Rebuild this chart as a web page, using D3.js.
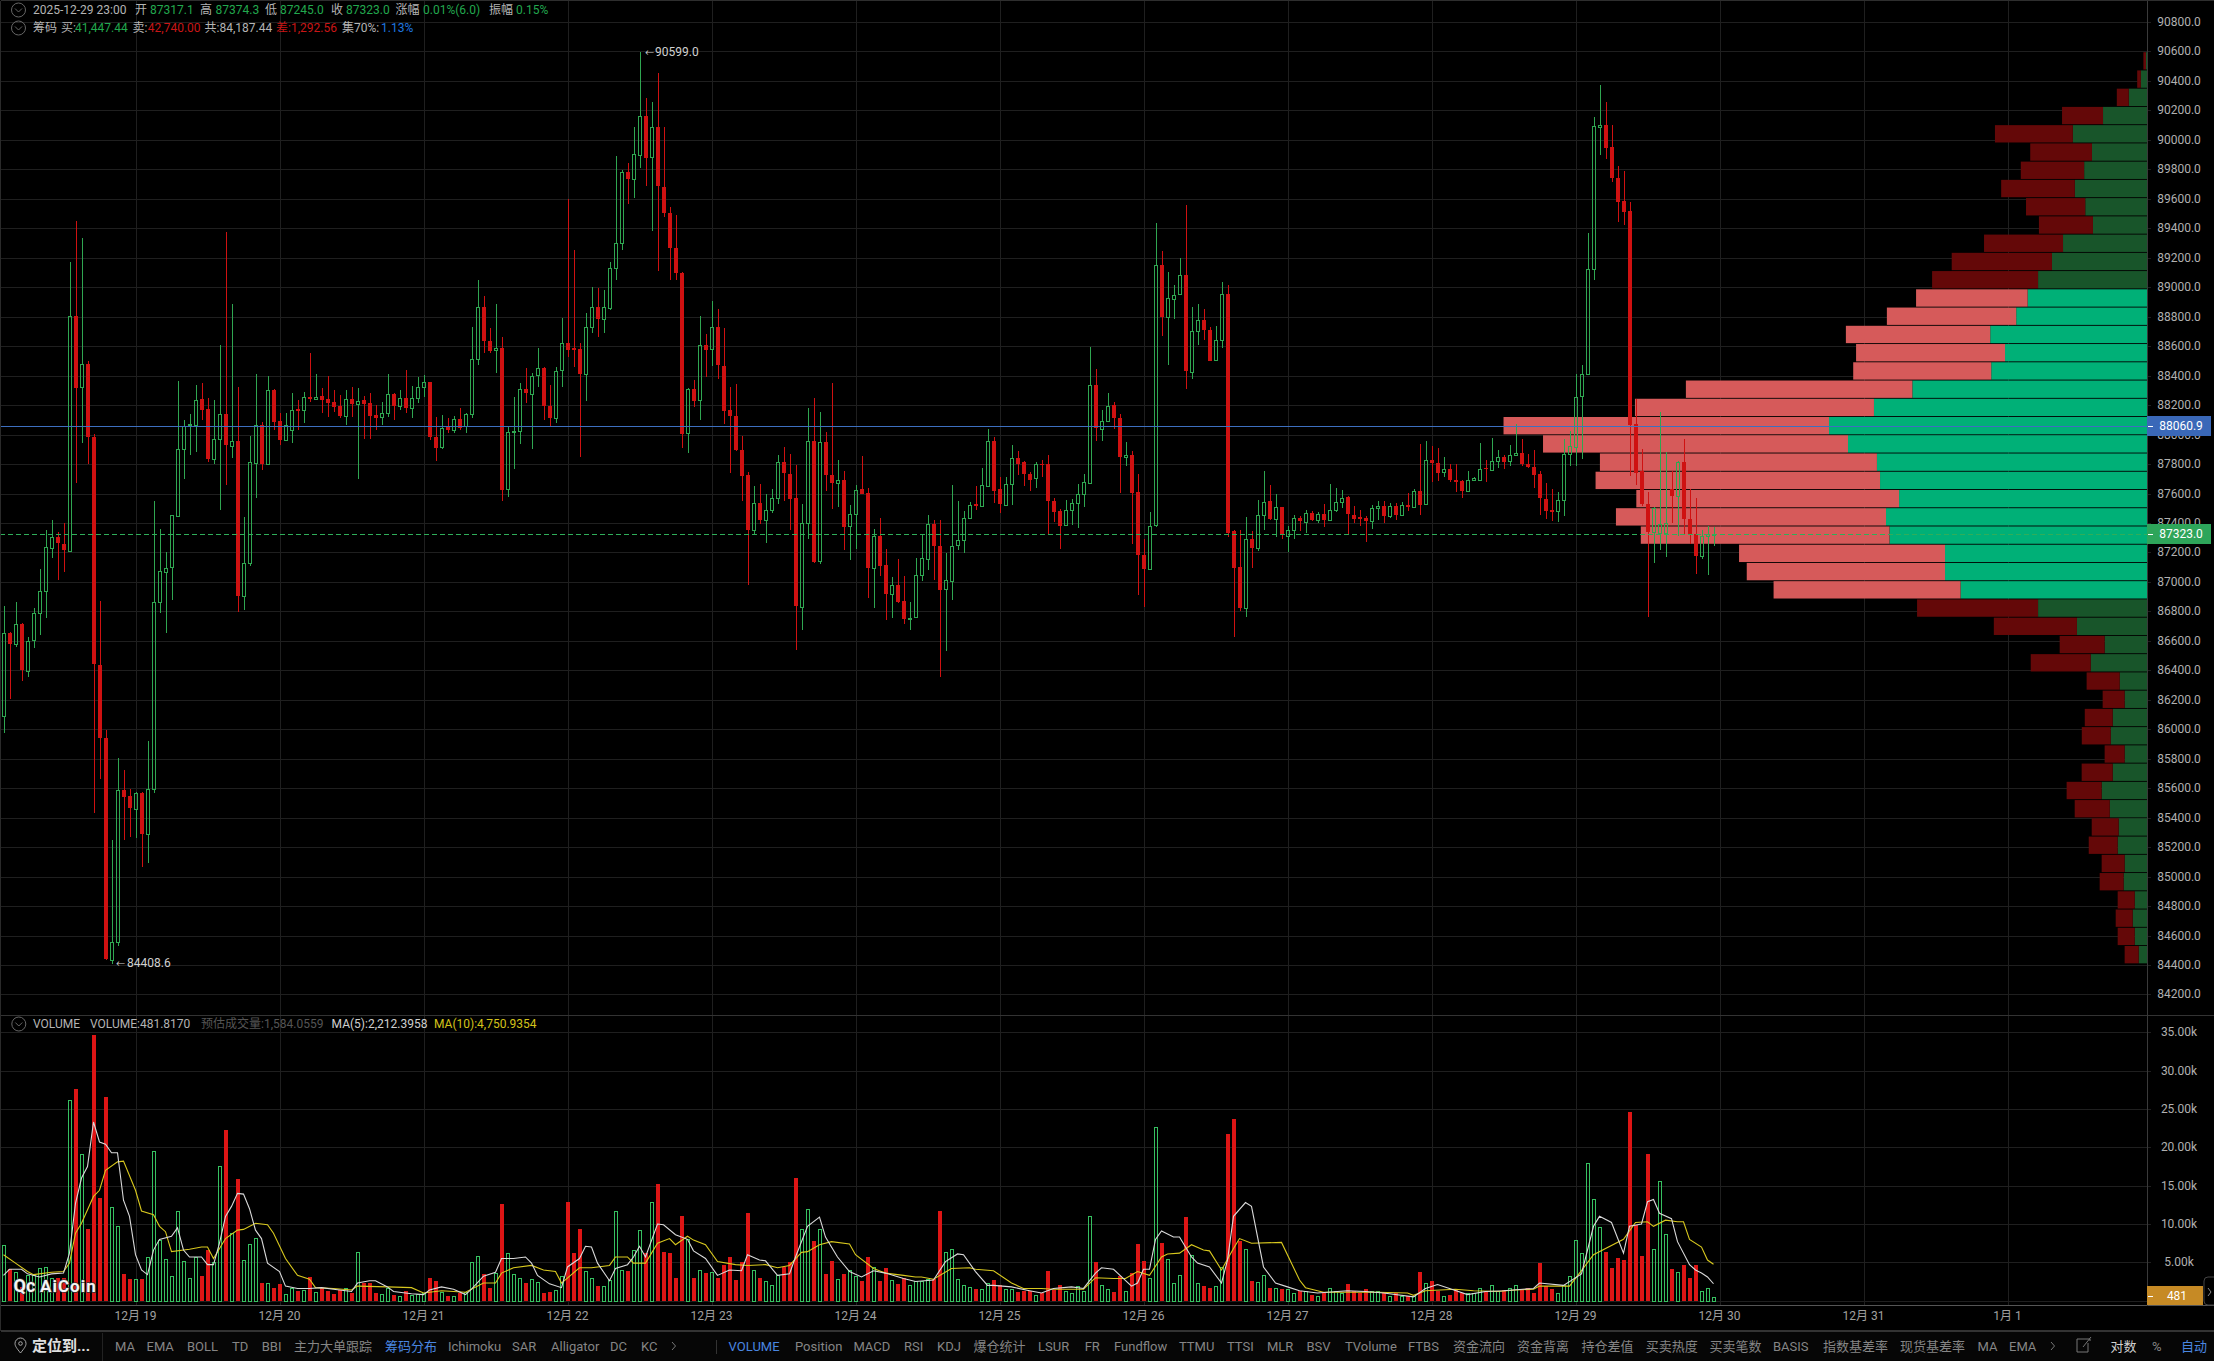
<!DOCTYPE html>
<html lang="zh"><head><meta charset="utf-8"><title>BTC K线</title>
<script src="https://cdnjs.cloudflare.com/ajax/libs/d3/7.8.5/d3.min.js"></script>
<style>html,body{margin:0;padding:0;background:#000;overflow:hidden}svg{display:block}
text{font-family:Roboto,"Noto Sans CJK SC",sans-serif}</style></head><body><svg id="c" width="2214" height="1361"></svg>
<script>
// hourly candles; index 0 = 12-18 02:00, index 285 = 12-29 23:00
const opens=[
86086,86651,86575,86711,86397,86602,86787,86935,87234,87308,
87254,87212,88805,88318,88477,87982,86439,85943,84440,84559,
85588,85546,85464,85570,85292,85595,86861,87071,87096,87451,
87905,88060,88065,88241,88171,87834,87964,88137,87925,87957,
86903,87125,87809,88065,87801,88302,88094,87964,88030,88171,
88162,88253,88241,88262,88239,88219,88194,88126,88241,88207,
88235,88214,88133,88117,88144,88273,88189,88246,88178,88246,
88320,88354,87982,87913,88053,88030,88103,88053,88137,88510,
88863,88635,88569,88585,87629,88016,88024,88309,88280,88400,
88449,88196,88115,88434,88619,88590,88581,88411,88728,88863,
88784,88857,89128,89298,89780,89734,89902,90164,89879,90085,
89682,89506,89268,89099,88011,88307,88236,88609,88577,88727,
88468,88165,88124,87894,87726,87353,87535,87423,87491,87565,
87812,87735,87570,86835,87403,87959,87138,87947,87726,87673,
87691,87379,87462,87629,87603,87094,87314,87114,86917,86976,
86870,86749,86758,87044,87158,87394,87247,86947,87011,87247,
87282,87432,87529,87518,87653,87959,87629,87526,87667,87844,
87812,87735,87703,87803,87797,87550,87482,87382,87485,87535,
87594,87673,88336,88041,88094,88200,88112,87844,87859,87609,
87182,87088,87382,89148,88795,88924,88948,89080,88427,88706,
88780,88712,88506,88645,88957,87344,87100,86820,87291,87232,
87453,87550,87426,87506,87314,87353,87432,87409,87470,87423,
87464,87423,87491,87544,87573,87456,87441,87432,87409,87500,
87512,87447,87512,87451,87522,87509,87620,87524,87828,87810,
87748,87763,87690,87685,87620,87690,87693,87771,87763,87823,
87851,87815,87859,87872,87800,87777,87732,87566,87488,87477,
87555,87867,87919,88262,88412,89127,90088,90100,89950,89742,
89586,89516,88072,87750,87530,87342,87330,87335,87633,87586,
87815,87426,87327,87176,87309,87317.1];
const closes=[
86651,86575,86711,86397,86602,86787,86935,87234,87308,87266,
87212,88805,88318,88477,87982,86439,85943,84440,84559,85588,
85541,85464,85570,85292,85595,86861,87071,87096,87451,87905,
88060,88069,88235,88167,87834,87969,88137,87925,87957,86903,
87125,87811,88065,87801,88302,88087,87964,88065,88167,88160,
88253,88241,88257,88235,88212,88185,88126,88239,88207,88230,
88207,88126,88115,88144,88273,88189,88246,88178,88246,88320,
88354,87982,87908,88042,88030,88103,88042,88137,88510,88863,
88630,88569,88585,87624,88019,88024,88309,88280,88400,88449,
88189,88115,88434,88619,88574,88574,88411,88728,88863,88784,
88863,89128,89298,89780,89734,89902,90164,89879,90085,89682,
89506,89268,89099,88006,88307,88228,88609,88577,88727,88468,
88162,88124,87894,87720,87353,87535,87423,87491,87570,87812,
87735,87565,86835,87403,87959,87138,87947,87720,87673,87691,
87373,87459,87623,87597,87094,87309,87108,86917,86976,86864,
86749,86758,87044,87161,87394,87247,86947,87011,87247,87282,
87432,87520,87514,87659,87959,87623,87526,87667,87844,87806,
87732,87697,87800,87797,87544,87476,87379,87485,87535,87594,
87676,88336,88041,88094,88194,88112,87844,87859,87603,87182,
87088,87382,89148,88795,88924,88948,89080,88427,88706,88780,
88712,88501,88645,88957,87338,87094,86820,87291,87232,87453,
87544,87426,87506,87314,87353,87432,87409,87470,87423,87464,
87423,87491,87544,87570,87456,87426,87426,87409,87500,87512,
87447,87512,87453,87522,87509,87620,87524,87826,87810,87745,
87768,87685,87678,87620,87693,87706,87768,87763,87823,87849,
87815,87859,87872,87795,87777,87724,87566,87483,87477,87555,
87867,87919,88257,88412,89127,90095,90100,89945,89737,89581,
89511,88067,87742,87524,87342,87504,87390,87400,87586,87815,
87426,87327,87176,87309,87322,87323];
const highs=[
86836,86660,86861,86723,86624,86822,87088,87352,87419,87340,
87399,89173,89449,89334,88501,88001,86871,85992,85247,85802,
85723,85595,85575,85575,85918,87550,87357,87202,87455,88366,
88100,88137,88336,88348,88246,88235,88608,89372,88886,88320,
87439,87990,88409,88087,88397,88310,88144,88144,88280,88235,
88291,88551,88411,88314,88397,88302,88268,88302,88320,88314,
88260,88280,88201,88223,88411,88285,88302,88438,88330,88393,
88404,88360,88121,88133,88110,88126,88178,88145,88728,89049,
88940,88721,88886,88660,88054,88257,88348,88449,88420,88585,
88460,88336,88460,88789,89599,89253,88624,88827,89000,88992,
88981,89173,89890,89795,89841,90089,90599,90286,90259,90451,
90089,89547,89490,89105,88315,88370,88806,88683,88904,88854,
88721,88324,88344,87991,87747,87653,87662,87600,87629,87859,
87918,87865,87794,87526,88183,88247,88153,88018,88350,87829,
87750,87520,87659,87853,87638,87359,87432,87226,87035,87153,
87041,86867,87161,87323,87453,87417,87423,87197,87659,87550,
87482,87541,87653,87771,88035,87982,87712,87712,87932,87888,
87820,87745,87815,87829,87859,87570,87497,87559,87565,87667,
87735,88595,88447,88168,88280,88218,88138,87947,87888,87735,
87291,87476,89433,89248,89101,89013,89198,89557,88865,88889,
88854,88727,88736,89036,89018,87353,87353,87441,87344,87556,
87750,87659,87594,87510,87382,87456,87447,87491,87482,87476,
87526,87667,87638,87623,87580,87515,87491,87447,87520,87550,
87550,87535,87535,87542,87602,87633,87937,87958,87919,87906,
87849,87802,87802,87690,87750,87710,87945,87828,87979,87893,
87860,87932,88075,87971,87867,87898,87750,87672,87633,87607,
87971,88023,88412,88472,89368,90153,90373,90256,90100,89820,
89789,89581,88244,87900,87607,87510,88153,87880,87750,87820,
87971,87633,87568,87353,87379,87374.3];
const lows=[
85975,86202,86558,86328,86358,86550,86642,86757,87162,87014,
87069,87205,87673,87942,87797,85432,85662,84433,84409,84527,
85247,85272,85262,85064,85094,85570,86792,86654,86876,87439,
87698,87858,87883,88099,87814,87797,87488,87661,87838,86797,
86809,87106,87569,87760,87795,88030,87927,87960,87945,88030,
88076,88223,88235,88144,88121,88155,88110,88065,88121,87698,
87969,87969,88030,88065,88120,88099,88167,88144,88110,88212,
88257,87962,87821,87903,88011,88011,88030,88011,88110,88472,
88551,88551,88416,87550,87579,87767,87937,88212,87903,88325,
88099,88054,88076,88325,88524,88461,87846,88230,88687,88660,
88691,88845,89049,89252,89562,89603,89811,89687,89384,89110,
89479,89049,89050,87908,87878,88189,88100,88389,88462,88380,
88071,87741,87890,87550,86982,87323,87394,87261,87470,87526,
87550,87353,86540,86676,87291,87130,87123,87617,87497,87506,
87217,87147,87226,87594,86888,86820,87041,86740,86755,86858,
86711,86673,86755,87005,87079,87011,86358,86529,86879,87217,
87197,87426,87491,87515,87647,87535,87468,87520,87520,87726,
87653,87617,87638,87712,87323,87409,87220,87379,87388,87365,
87511,87667,87953,87953,88088,88035,87603,87785,87255,86908,
86829,87082,87376,88668,88471,88786,88948,88306,88380,88609,
88645,88501,88500,88586,87308,86623,86805,86764,87094,87211,
87353,87420,87308,87291,87205,87291,87344,87335,87415,87403,
87373,87420,87475,87500,87323,87403,87379,87270,87360,87423,
87403,87432,87420,87446,87483,87504,87457,87520,87678,87685,
87711,87680,87607,87568,87607,87685,87685,87680,87756,87776,
87763,87789,87853,87790,87770,87634,87452,87426,87413,87405,
87446,87789,87784,87833,88410,89049,89898,89867,89711,89446,
89425,87717,87659,87515,86763,87127,87218,87171,87400,87309,
87322,87257,87057,87153,87049,87245];
// volume per candle, thousands
const volumes=[
7.2,4.1,3.8,1.8,3.3,3.3,4.3,4.4,2.9,2.9,
2.9,26.2,27.6,19.1,9.3,34.7,13.4,26.6,12.2,9.8,
3.5,2.8,2.8,2.8,5.7,19.5,7.9,5.4,3.2,11.7,
5.2,2.9,5.7,3.2,6.6,5.1,17.6,22.3,8.8,15.9,
5.3,7.4,8.2,2.3,2.3,1.7,2.2,0.9,1.7,1.2,
1.4,3.1,1.1,1.7,1.3,0.9,1.4,1.6,1.0,6.4,
2.3,2.3,1.0,0.9,1.7,0.8,0.6,1.2,0.8,0.9,
1.0,3.0,2.6,1.1,0.6,0.6,1.0,1.1,5.0,5.8,
3.5,1.6,3.6,12.6,6.2,3.5,3.0,2.3,2.8,2.5,
1.0,1.1,1.4,3.2,12.9,6.2,9.4,3.9,2.9,1.9,
1.9,2.7,11.7,4.0,3.9,6.6,9.2,6.2,12.9,15.2,
6.4,6.2,3.0,11.0,8.1,3.0,4.0,3.6,3.7,2.9,
4.7,5.7,2.7,5.1,11.4,4.0,2.9,2.6,2.0,3.3,
4.4,5.1,16.0,9.4,12.0,7.8,9.4,3.5,5.2,2.8,
3.5,4.0,3.2,2.6,5.7,4.4,2.6,4.3,2.7,2.2,
2.9,2.0,2.6,2.6,2.8,2.8,11.7,6.4,6.7,2.8,
2.1,1.8,1.5,1.5,2.3,2.7,2.0,1.5,1.5,1.1,
1.3,1.2,0.8,1.0,3.9,1.4,2.1,1.3,1.0,1.9,
1.3,11.0,5.0,2.0,1.5,1.1,3.2,1.3,3.6,7.4,
5.2,3.0,22.7,7.5,5.5,2.3,3.3,10.9,6.0,2.3,
1.9,1.7,1.9,4.4,21.7,23.7,7.8,6.7,2.6,2.4,
3.4,1.7,1.7,1.5,1.5,1.0,1.3,1.2,0.7,0.6,
1.0,1.6,1.2,1.0,2.2,1.3,1.0,1.5,1.3,1.2,
1.0,0.6,1.0,0.6,0.6,0.6,3.7,2.3,2.6,1.3,
0.6,0.8,1.4,1.0,1.0,1.0,1.6,1.3,2.1,1.2,
1.4,1.6,2.1,1.5,1.6,1.0,4.9,1.9,1.5,1.0,
2.0,3.2,7.9,6.2,17.9,13.3,9.6,6.3,4.3,5.6,
5.3,24.6,9.9,5.8,19.1,6.7,15.6,8.7,4.1,3.8,
4.6,3.0,4.7,1.2,1.7,0.48];
// MA lines at turning points: [candle index, thousands]
const ma5Points=[[0,3.3],[1,4.1],[3,4.1],[4,3.5],[6,3.1],[8,3.5],[10,3.6],[11,6.2],[12,12.7],[13,16],[14,17.5],[15,23.3],[16,20.7],[17,20.4],[18,19.3],[19,19.3],[20,13.1],[21,11],[22,6],[23,4],[24,3.4],[25,6.6],[26,8],[28,8.4],[29,9.5],[30,6.6],[31,5.7],[33,5.7],[34,4.7],[35,4.7],[36,7.5],[37,11],[38,12.3],[39,14],[40,13.9],[41,12],[42,9.2],[43,8.1],[44,4.9],[46,3.8],[47,1.9],[49,1.6],[51,1.6],[53,1.7],[55,1.5],[58,1.2],[59,2.3],[61,2.6],[62,2.6],[64,1.8],[65,1.2],[68,.9],[70,.8],[71,1.4],[73,1.8],[75,1.5],[77,.8],[78,1.5],[80,3.2],[82,3.7],[83,5.5],[85,5.5],[87,5.7],[88,4.9],[89,3.3],[91,2.2],[93,1.7],[94,4.4],[96,5.5],[97,7.1],[98,7],[99,4.9],[101,2.6],[102,4.2],[104,4.7],[105,5.7],[106,7.1],[107,5.7],[109,10],[110,9.9],[112,8.6],[114,8],[115,6.5],[117,5.5],[119,3.3],[121,4],[123,3.9],[124,6],[126,5.3],[127,5.2],[129,3.3],[131,3.5],[132,5.7],[134,9.7],[136,10.9],[137,8.3],[139,5.7],[141,3.8],[143,3.1],[145,3.9],[147,3.6],[150,2.9],[152,2.5],[155,2.7],[157,5.1],[159,6.1],[160,6],[162,3.8],[164,2],[165,2],[168,1.8],[171,1.3],[173,1],[175,1.6],[178,1.8],[180,1.6],[182,3.6],[183,4.3],[185,4.1],[188,1.9],[189,2.3],[190,4.1],[191,4.1],[192,8],[193,9.1],[195,8.3],[196,8.3],[198,5.7],[199,4.9],[201,4.4],[203,2.3],[204,5.3],[205,11],[207,12.8],[208,12.3],[210,4.4],[212,2.3],[214,1.8],[216,1.3],[219,1],[224,1.3],[227,1.2],[230,1],[235,.5],[237,1.6],[239,2.1],[241,1.6],[244,.8],[247,1.2],[250,1.3],[255,1.6],[256,2.3],[260,2],[263,3.5],[265,9.7],[266,11],[268,10.2],[270,6.2],[271,9.7],[273,10],[274,12.9],[275,13.2],[276,11.4],[278,10.7],[279,7.7],[281,4.7],[282,4],[283,3.6],[284,3.1],[285,2.21]];
const ma10Points=[[0,6],[2,4.9],[4,3.8],[5,3.4],[8,3.7],[10,3.8],[11,4.9],[12,8.8],[13,10.1],[15,13.6],[16,14.4],[17,17],[19,18.1],[20,18.2],[22,14.4],[23,11.7],[25,11.2],[26,9.7],[27,9],[28,6.4],[31,6.7],[33,7],[34,7],[35,5.5],[37,8.1],[39,9.2],[40,9.3],[42,10.1],[44,9.9],[45,8.8],[47,5.5],[49,3.3],[51,2.8],[52,1.7],[55,1.6],[58,1.4],[59,1.9],[64,1.8],[68,1.7],[70,1],[73,1.3],[77,1.1],[80,2.3],[82,2.3],[83,3.6],[85,4.3],[88,4.6],[90,4],[92,3.8],[93,2.3],[96,4.3],[98,4.3],[101,4.6],[102,5.7],[104,5.7],[105,4.9],[107,4.9],[109,7.5],[111,8.1],[112,7.3],[114,8.4],[115,7.9],[117,7.3],[119,5.1],[122,4.7],[124,4.6],[127,4.7],[129,4.3],[131,4.6],[133,6.3],[134,6.4],[136,7.3],[138,7.7],[141,7.4],[142,6],[145,4.2],[147,3.6],[150,3.3],[152,3.1],[153,3.1],[155,2.8],[158,4.2],[161,4.3],[162,4.1],[165,3.9],[168,2.3],[170,1.6],[173,1.6],[175,1.5],[180,1.5],[182,3],[185,2.9],[187,2.9],[189,3.8],[191,3.3],[193,5.7],[194,6.1],[196,6.2],[198,7.3],[200,6.6],[201,6.5],[203,4],[205,6.8],[206,8.1],[208,7.5],[213,7.6],[216,2.7],[217,1.7],[220,1.1],[225,1.1],[229,1.1],[234,1],[235,.7],[237,1.3],[242,1.5],[245,1.3],[249,1.2],[252,1.4],[255,1.5],[256,1.9],[261,1.9],[262,2.9],[265,6],[270,8],[272,10.2],[274,10.3],[275,9.7],[277,10.5],[279,10.3],[280,10.3],[281,8],[283,7],[284,5.3],[285,4.75]];
// chip distribution, bottom bin first
const binBase=84408.6, binSize=123.8;
const chipBuy=[67,99,115,99,188,180,236,228,300,365,276,180,292,276,180,220,453,341,564,877,1501,1626,1626,2073,2101,1996,2149,2174,2407,2560,2198,1889,1254,1143,1262,1053,961,877,765,676,435,497,581,506,443,597,354,147,50,8];
const chipSell=[113,137,137,137,193,185,233,217,282,282,250,161,233,225,177,266,483,362,669,974,1505,1596,1658,2002,2174,2115,2290,2230,2455,2620,1924,1823,1111,1199,1162,1041,898,853,807,636,435,477,593,510,497,627,330,96,29,21];
const chipBrightFrom=20, chipBrightTo=36;
const priceTicks=d3.range(84200,90801,200);
const volTicks=[5,10,15,20,25,30,35];
const dayTicks=[[22,"12月 19"],[46,"12月 20"],[70,"12月 21"],[94,"12月 22"],[118,"12月 23"],[142,"12月 24"],[166,"12月 25"],[190,"12月 26"],[214,"12月 27"],[238,"12月 28"],[262,"12月 29"],[286,"12月 30"],[310,"12月 31"],[334,"1月 1"]];
const headerRow1=[["2025-12-29 23:00",33,"#b4b4b4"],["开",135,"#b4b4b4"],["87317.1",150,"#22a84e"],["高",200,"#b4b4b4"],["87374.3",215.6,"#22a84e"],["低",265,"#b4b4b4"],["87245.0",280,"#22a84e"],["收",331,"#b4b4b4"],["87323.0",346,"#22a84e"],["涨幅",395.5,"#b4b4b4"],["0.01%(6.0)",423,"#22a84e"],["振幅",489,"#b4b4b4"],["0.15%",516,"#22a84e"]];
const headerRow2=[["筹码",33,"#b4b4b4"],["买:",61,"#b4b4b4"],["41,447.44",75,"#22a84e"],["卖:",132.6,"#b4b4b4"],["42,740.00",147.8,"#c91616"],["共:84,187.44",204.5,"#b4b4b4"],["差:1,292.56",276,"#c91616"],["集70%:",342,"#b4b4b4"],["1.13%",381,"#1f78e0"]];
const volHeader=[["VOLUME",33,"#b4b4b4"],["VOLUME:481.8170",90,"#b4b4b4"],["预估成交量:1,584.0559",201,"#555"],["MA(5):2,212.3958",331.6,"#cfcfcf"],["MA(10):4,750.9354",434,"#d4c21a"]];
const toolbarItems=[["MA",115],["EMA",146.5],["BOLL",187],["TD",232],["BBI",261.7],["主力大单跟踪",294],["筹码分布",385,"#4a86e0"],["Ichimoku",448],["SAR",512],["Alligator",551],["DC",610],["KC",641],["VOLUME",728.6,"#4a86e0"],["Position",795],["MACD",853.4],["RSI",904],["KDJ",937],["爆仓统计",973.6],["LSUR",1038],["FR",1084.7],["Fundflow",1114],["TTMU",1179],["TTSI",1227],["MLR",1267],["BSV",1306.5],["TVolume",1345],["FTBS",1408],["资金流向",1453],["资金背离",1517],["持仓差值",1581.5],["买卖热度",1645.7],["买卖笔数",1709.5],["BASIS",1773],["指数基差率",1823],["现货基差率",1900],["MA",1977.5],["EMA",2009],["对数",2110.5,"#d0d0d0"],["%",2152],["自动",2181,"#4a86e0"]];

const W=2214,H=1361,AX=2147;
const UP="#2fa651",DN="#cf1111";
const svg=d3.select("#c");
const x=d3.scaleLinear().domain([0,1]).range([3.5,9.5]);
const y=d3.scaleLinear().domain([84400,90800]).range([965,22]);
const yv=d3.scaleLinear().domain([0,35]).range([1300.7,1032.3]);
const chipW=d3.scaleLinear().domain([0,8.05]).range([0,1]);
const px=v=>Math.round(v)+.5;

svg.append("rect").attr("width",W).attr("height",H).attr("fill","#000");
svg.append("rect").attr("y",1332).attr("width",W).attr("height",29).attr("fill","#060606");

// grid
const grid=svg.append("g").attr("stroke","#1f1f1f").attr("shape-rendering","crispEdges");
grid.selectAll(".h").data(priceTicks).join("line").attr("x1",0).attr("x2",AX+4).attr("y1",d=>px(y(d))).attr("y2",d=>px(y(d)));
grid.selectAll(".v").data(volTicks.concat(0)).join("line").attr("class","v").attr("x1",0).attr("x2",AX+4).attr("y1",d=>px(yv(d))).attr("y2",d=>px(yv(d)));
grid.selectAll(".d").data(dayTicks).join("line").attr("class","d").attr("x1",d=>px(x(d[0]))).attr("x2",d=>px(x(d[0]))).attr("y1",0).attr("y2",1015);
grid.selectAll(".d2").data(dayTicks).join("line").attr("class","d2").attr("x1",d=>px(x(d[0]))).attr("x2",d=>px(x(d[0]))).attr("y1",1015).attr("y2",1305);

// chip distribution (antialiased edges give the uneven thin gaps between rows)
const chip=svg.append("g");
const bins=chipBuy.map((b,k)=>({k,b,s:chipSell[k],bright:k>=chipBrightFrom&&k<=chipBrightTo}));
const binTop=k=>y(binBase+(k+1)*binSize)+.5;
const binH=k=>y(binBase+k*binSize)-y(binBase+(k+1)*binSize)-.9;
chip.selectAll(".b").data(bins).join("rect").attr("x",d=>AX-chipW(d.b)).attr("width",d=>chipW(d.b)).attr("y",d=>binTop(d.k)).attr("height",d=>binH(d.k)).attr("fill",d=>d.bright?"#00b077":"#18552a");
chip.selectAll(".s").data(bins).join("rect").attr("x",d=>AX-chipW(d.b)-chipW(d.s)).attr("width",d=>chipW(d.s)).attr("y",d=>binTop(d.k)).attr("height",d=>binH(d.k)).attr("fill",d=>d.bright?"#d65a5a":"#640808");

// candles: hollow when up, wick broken by the see-through body
const candles=opens.map((o,i)=>({i,o,c:closes[i],h:highs[i],l:lows[i],v:volumes[i],up:closes[i]>=o}));
const cg=svg.append("g").attr("shape-rendering","crispEdges");
const bTop=d=>Math.round(y(Math.max(d.o,d.c)));
const bH=d=>Math.max(1,Math.round(Math.abs(y(d.o)-y(d.c))));
cg.selectAll(".w").data(candles).join("path").attr("fill","none").attr("stroke",d=>d.up?UP:DN).attr("d",d=>{
  const X=px(x(d.i));
  return d.up?`M${X} ${y(d.h)}V${bTop(d)}M${X} ${bTop(d)+bH(d)}V${y(d.l)}`:`M${X} ${y(d.h)}V${y(d.l)}`;});
cg.selectAll(".b").data(candles).join("rect")
  .attr("x",d=>Math.round(x(d.i))-2+(d.up?.5:0)).attr("width",d=>d.up?3:4)
  .attr("y",d=>bTop(d)+(d.up?.5:0)).attr("height",bH)
  .attr("fill",d=>d.up?"none":DN).attr("stroke",d=>d.up?UP:"none");

// last & current price lines
svg.append("line").attr("x1",0).attr("x2",AX).attr("y1",px(y(88060.9))).attr("y2",px(y(88060.9))).attr("stroke","#3d6fbf").attr("shape-rendering","crispEdges");
svg.append("line").attr("x1",0).attr("x2",AX).attr("y1",px(y(87323))).attr("y2",px(y(87323))).attr("stroke","#2fae5a").attr("stroke-dasharray","5 3").attr("shape-rendering","crispEdges");

// volume bars
const vg=svg.append("g").attr("shape-rendering","crispEdges");
vg.selectAll("rect").data(candles).join("rect")
  .attr("x",d=>Math.round(x(d.i))-2+(d.up?.5:0)).attr("width",d=>d.up?3:4)
  .attr("y",d=>Math.round(yv(d.v))+(d.up?.5:0)).attr("height",d=>Math.max(1,Math.round(yv(0))-Math.round(yv(d.v))))
  .attr("fill",d=>d.up?"none":"#dd1515").attr("stroke",d=>d.up?"#36c060":"none");
const line=d3.line().x(d=>x(d[0])).y(d=>yv(d[1]));
svg.append("path").attr("d",line(ma10Points)).attr("fill","none").attr("stroke","#d8c81e").attr("stroke-width",1.1);
svg.append("path").attr("d",line(ma5Points)).attr("fill","none").attr("stroke","#d9d9d9").attr("stroke-width",1.1);

// frame
const fr=svg.append("g").attr("shape-rendering","crispEdges");
[[0,0,W,0,"#2e2e2e"],[0,1015,W,1015,"#333"],[0,1305,AX,1305,"#555"],[AX,1305,W,1305,"#555"],[0,1330,W,1330,"#333"],[0,1331,W,1331,"#333"],[AX,0,AX,1305,"#3a3a3a"],[0,0,0,1330,"#2a2a2a"],[102,1332,102,1361,"#222"],[716,1339,716,1353,"#333"]]
 .forEach(a=>fr.append("line").attr("x1",a[0]+.5).attr("y1",a[1]+.5).attr("x2",a[2]+.5).attr("y2",a[3]+.5).attr("stroke",a[4]));

// text helper
const T=(t,xx,yy,f,o={})=>svg.append("text").text(t).attr("x",xx).attr("y",yy).attr("fill",f).attr("font-size",o.s||12).attr("text-anchor",o.a||"start").attr("font-weight",o.w||400);
// axes labels
svg.append("g").selectAll("text").data(priceTicks).join("text").attr("x",2179).attr("y",d=>y(d)+4).attr("text-anchor","middle").attr("font-size",12).attr("fill","#b0b0b0").text(d=>d3.format(".1f")(d));
svg.append("g").selectAll("text").data(volTicks).join("text").attr("x",2179).attr("y",d=>yv(d)+4).attr("text-anchor","middle").attr("font-size",12).attr("fill","#b0b0b0").text(d=>d3.format(".2f")(d)+"k");
svg.append("g").selectAll("text").data(dayTicks).join("text").attr("x",d=>x(d[0])).attr("y",1320).attr("text-anchor","middle").attr("font-size",12).attr("fill","#a0a0a0").text(d=>d[1]);

// price tags
const tag=(v,yy,fill,w,txt,h)=>{const g=svg.append("g").attr("shape-rendering","crispEdges");
 g.append("rect").attr("x",AX).attr("y",yy-h/2).attr("width",w).attr("height",h).attr("fill",fill);
 g.append("rect").attr("x",AX+1).attr("y",Math.round(yy)).attr("width",5).attr("height",1).attr("fill","#fff");
 T(txt,AX+w/2+2,yy+4,"#fff",{a:"middle"});};
tag(88060.9,y(88060.9),"#3a68b8",64,"88060.9",20);
tag(87323,y(87323),"#2ea55a",64,"87323.0",20);
tag(481,1295.5,"#c68a25",56,"481",19);

// headers
headerRow1.forEach(d=>T(d[0],d[1],14,d[2]));
headerRow2.forEach(d=>T(d[0],d[1],32,d[2]));
volHeader.forEach(d=>T(d[0],d[1],1028,d[2]));
const chev=(cx,cy)=>{const g=svg.append("g").attr("fill","none").attr("stroke","#666");
 g.append("circle").attr("cx",cx).attr("cy",cy).attr("r",7);
 g.append("path").attr("d",`M${cx-3.5} ${cy-1.5}L${cx} ${cy+2}L${cx+3.5} ${cy-1.5}`);};
chev(18.5,10);chev(18.5,28);chev(18.8,1024);

// high / low notes
T("←",645,56,"#d0d0d0",{s:9});
T("90599.0",655,56,"#d0d0d0");
T("←",116,967,"#d0d0d0",{s:9});
T("84408.6",127,967,"#d0d0d0");

// watermark
const wm=(t,xx,s,ls)=>T(t,xx,1292,"#f4f4f4",{s,w:700}).attr("letter-spacing",ls).attr("stroke","#333").attr("stroke-width",1.5).attr("paint-order","stroke");
wm("Qc",13.5,18,0);wm("AiCoin",40,17,1);

// toolbar
toolbarItems.forEach(d=>T(d[0],d[1],1350.5,d[2]||"#858585",{s:13}));
T("定位到...",32,1351,"#e0e0e0",{s:15,w:700});
const ic=svg.append("g").attr("fill","none").attr("stroke","#aaa");
ic.append("path").attr("d","M20.5 1353C16.5 1348 15 1346 15 1343.5a5.5 5.5 0 0 1 11 0C26 1346 24.5 1348 20.5 1353Z");
ic.append("circle").attr("cx",20.5).attr("cy",1343.5).attr("r",1.8);
[[672,1346],[2051,1346]].forEach(p=>svg.append("path").attr("d",`M${p[0]} ${p[1]-4}L${p[0]+3.5} ${p[1]}L${p[0]} ${p[1]+4}`).attr("fill","none").attr("stroke","#777"));
svg.append("path").attr("d","M2090 1341V1339H2077V1352H2088V1343M2083 1347L2091 1337").attr("fill","none").attr("stroke","#777");
svg.append("path").attr("d","M2214 1277H2208Q2204 1277 2204 1281V1301Q2204 1305 2208 1305H2214").attr("fill","#000").attr("stroke","#444");
svg.append("path").attr("d","M2208 1288L2211 1292L2208 1296").attr("fill","none").attr("stroke","#888");
</script></body></html>
